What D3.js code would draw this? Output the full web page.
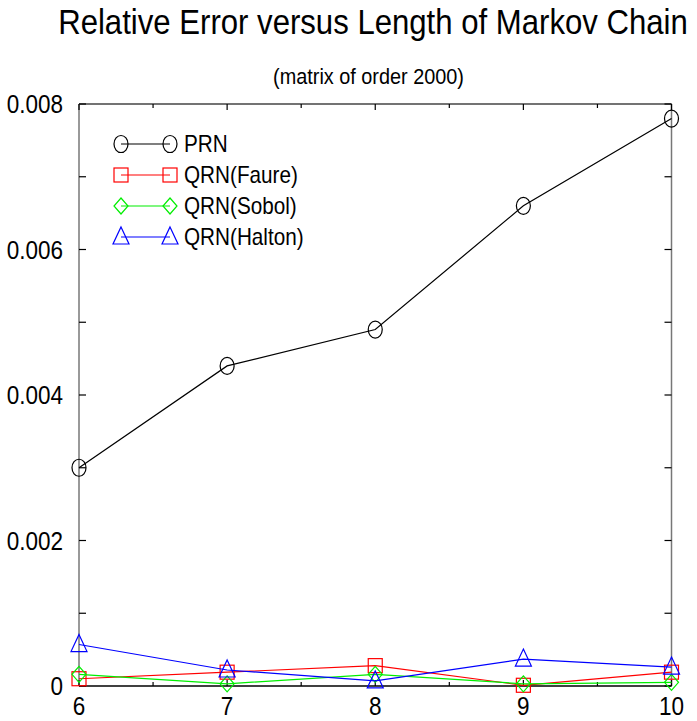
<!DOCTYPE html>
<html>
<head>
<meta charset="utf-8">
<script src="https://cdn.jsdelivr.net/npm/d3@7"></script>
<style>
  body { margin: 0; background: #fff; }
  text { font-family: "Liberation Sans", Arial, sans-serif; }
</style>
</head>
<body>
<svg id="chart" width="697" height="721"></svg>
<script>
// chain lengths on the x axis
var lengths = [6, 7, 8, 9, 10];

// relative error per generator
var prn    = [0.0030, 0.0044, 0.0049, 0.0066, 0.0078];
var faure  = [0.00010, 0.00019, 0.00028, 0.00001, 0.00019];
var sobol  = [0.00016, 0.00003, 0.00016, 0.00003, 0.00005];
var halton = [0.00057, 0.00022, 0.00007, 0.00037, 0.00026];

var yTickLabels = [0, 0.002, 0.004, 0.006, 0.008];

var series = [
  {name: "PRN",         values: prn,    color: "#000000", shape: "circle"},
  {name: "QRN(Faure)",  values: faure,  color: "#ff0000", shape: "square"},
  {name: "QRN(Sobol)",  values: sobol,  color: "#00ee00", shape: "diamond"},
  {name: "QRN(Halton)", values: halton, color: "#0000ff", shape: "triangle"}
];

var svg = d3.select("#chart");
var plotL = 79, plotR = 671.5, plotT = 104, plotB = 686;
var NARROW = 0.9; // the original font is a slightly condensed sans

var x = d3.scaleLinear().domain([6, 10]).range([plotL, plotR]);
var y = d3.scaleLinear().domain([0, 0.008]).range([plotB, plotT]);

// text squeezed horizontally to mimic a narrow face
function narrowText(g, tx, ty, str, size, anchor, sx) {
  return g.append("text")
    .attr("transform", "translate(" + tx + "," + ty + ") scale(" + (sx || NARROW) + ",1)")
    .attr("text-anchor", anchor || "start")
    .style("font-size", size + "px")
    .text(str);
}

// title squeezed to the width it has in the original
function fitText(tx, ty, str, size, width) {
  var t = svg.append("text").style("font-size", size + "px").text(str);
  var w = t.node().getComputedTextLength();
  t.attr("text-anchor", "middle")
    .attr("transform", "translate(" + tx + "," + ty + ") scale(" + (width / w) + ",1)");
}

fitText(373, 34, "Relative Error versus Length of Markov Chain", 35, 630);
fitText(368.5, 84, "(matrix of order 2000)", 22, 191);

// frame
var frame = svg.append("g").attr("fill", "none").attr("stroke-width", 1.5);
frame.append("line").attr("x1", plotL).attr("x2", plotR).attr("y1", plotT).attr("y2", plotT).attr("stroke", "#444");
frame.append("line").attr("x1", plotL).attr("x2", plotL).attr("y1", plotT).attr("y2", plotB).attr("stroke", "#777");
frame.append("line").attr("x1", plotR).attr("x2", plotR).attr("y1", plotT).attr("y2", plotB).attr("stroke", "#777");

// inward ticks
var xMinor = d3.range(6, 10.01, 0.5);
var yMinor = d3.range(0, 0.00801, 0.001);

var ticks = svg.append("g").attr("stroke", "#000").attr("stroke-width", 1.2);
xMinor.forEach(function (v) {
  var len = (v % 1 === 0) ? 6 : 4;
  ticks.append("line").attr("x1", x(v)).attr("x2", x(v)).attr("y1", plotB).attr("y2", plotB - len);
  ticks.append("line").attr("x1", x(v)).attr("x2", x(v)).attr("y1", plotT).attr("y2", plotT + len);
});
yMinor.forEach(function (v) {
  ticks.append("line").attr("x1", plotL).attr("x2", plotL + 7).attr("y1", y(v)).attr("y2", y(v));
  ticks.append("line").attr("x1", plotR).attr("x2", plotR - 7).attr("y1", y(v)).attr("y2", y(v));
});

// bottom axis line (black)
svg.append("line")
  .attr("x1", plotL).attr("x2", plotR).attr("y1", plotB).attr("y2", plotB)
  .attr("stroke", "#000").attr("stroke-width", 1.5);

// tick labels
var xLab = svg.append("g");
lengths.forEach(function (d) {
  narrowText(xLab, x(d), plotB + 29, d, 25, "middle");
});

var yLab = svg.append("g");
yTickLabels.forEach(function (d) {
  narrowText(yLab, plotL - 16, y(d) + 9, d === 0 ? "0" : d3.format(".3f")(d), 25, "end");
});

// markers
function drawMarker(g, shape, cx, cy, color) {
  if (shape === "circle") {
    g.append("ellipse").attr("cx", cx).attr("cy", cy).attr("rx", 7).attr("ry", 8.5)
      .attr("fill", "none").attr("stroke", color).attr("stroke-width", 1.2);
  } else if (shape === "square") {
    g.append("rect").attr("x", cx - 7).attr("y", cy - 7).attr("width", 14).attr("height", 14)
      .attr("fill", "none").attr("stroke", color).attr("stroke-width", 1.2);
  } else if (shape === "diamond") {
    g.append("path").attr("d", "M" + cx + "," + (cy - 8) + "L" + (cx + 7) + "," + cy + "L" + cx + "," + (cy + 8) + "L" + (cx - 7) + "," + cy + "Z")
      .attr("fill", "none").attr("stroke", color).attr("stroke-width", 1.2);
  } else {
    g.append("path").attr("d", "M" + cx + "," + (cy - 10) + "L" + (cx + 8) + "," + (cy + 7) + "L" + (cx - 8) + "," + (cy + 7) + "Z")
      .attr("fill", "none").attr("stroke", color).attr("stroke-width", 1.2);
  }
}

var line = d3.line()
  .x(function (d) { return x(d[0]); })
  .y(function (d) { return y(d[1]); });

series.forEach(function (s) {
  var pts = lengths.map(function (l, i) { return [l, s.values[i]]; });
  var g = svg.append("g");
  g.append("path").attr("d", line(pts))
    .attr("fill", "none").attr("stroke", s.color).attr("stroke-width", 1.2);
  pts.forEach(function (p) { drawMarker(g, s.shape, x(p[0]), y(p[1]), s.color); });
});

// legend
var legend = svg.append("g");
series.forEach(function (s, i) {
  var ly = 144 + i * 31;
  legend.append("line").attr("x1", 121).attr("x2", 170).attr("y1", ly).attr("y2", ly)
    .attr("stroke", s.color).attr("stroke-width", 1.2);
  drawMarker(legend, s.shape, 121, ly, s.color);
  drawMarker(legend, s.shape, 170, ly, s.color);
  narrowText(legend, 184, ly + 8, s.name, 23, "start");
});
</script>
</body>
</html>
